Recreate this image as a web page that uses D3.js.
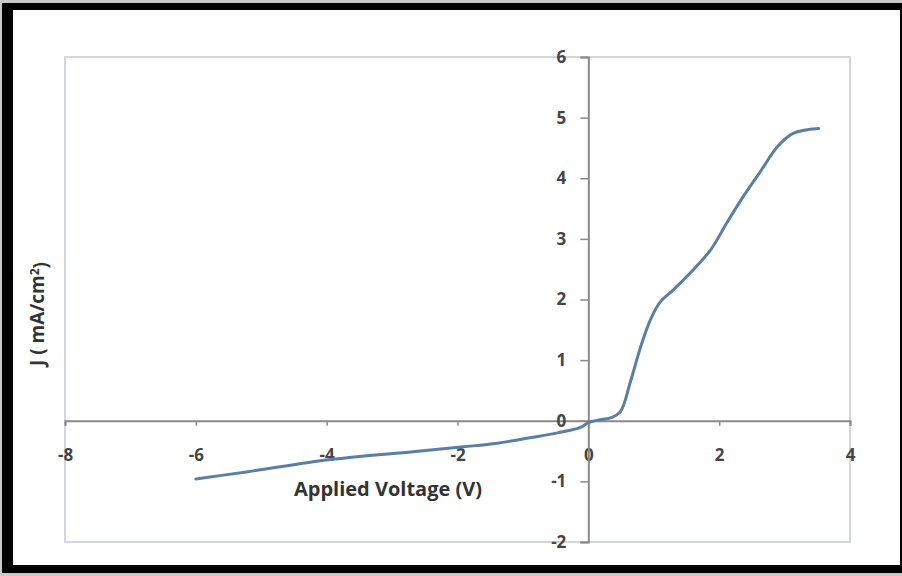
<!DOCTYPE html>
<html>
<head>
<meta charset="utf-8">
<script src="https://cdn.jsdelivr.net/npm/d3@7"></script>
<style>
  html, body { margin: 0; padding: 0; background: #fff; }
  svg { display: block; }
  .tick text { font-family: "Open Sans", sans-serif; font-weight: bold; font-size: 17px; fill: #454545; }
</style>
</head>
<body>
<div id="chart"></div>
<script>
const voltage = [-6.0, -5.2, -3.94, -2.68, -1.91, -1.39, -0.89, -0.47, -0.12, 0.0, 0.2, 0.35, 0.49, 0.64, 0.8, 0.95, 1.1, 1.3, 1.56, 1.87, 2.12, 2.37, 2.63, 2.89, 3.13, 3.52];
const current = [-0.96, -0.84, -0.64, -0.51, -0.43, -0.37, -0.28, -0.2, -0.11, -0.03, 0.02, 0.05, 0.15, 0.63, 1.22, 1.67, 1.96, 2.16, 2.44, 2.82, 3.27, 3.7, 4.11, 4.52, 4.74, 4.82];
const xTicks = [-8, -6, -4, -2, 0, 2, 4];
const yTicks = [-2, -1, 0, 1, 2, 3, 4, 5, 6];

const W = 902, H = 576;
const svg = d3.select("#chart").append("svg")
    .attr("width", W)
    .attr("height", H);

// picture frame (cropped screenshot border)
svg.append("rect").attr("width", W).attr("height", H).attr("fill", "#c9c9c9");
svg.append("rect").attr("x", 2).attr("y", 3).attr("width", W - 2).attr("height", 570).attr("fill", "#000");
svg.append("rect").attr("x", 13).attr("y", 10).attr("width", 887).attr("height", 555).attr("fill", "#fff");

const pl = 65, pr = 850, pt = 57, pb = 542;

const x = d3.scaleLinear().domain([-8, 4]).range([pl, pr]);
const y = d3.scaleLinear().domain([-2, 6]).range([pb, pt]);

// plot area border
svg.append("rect")
    .attr("x", pl).attr("y", pt)
    .attr("width", pr - pl).attr("height", pb - pt)
    .attr("fill", "none")
    .attr("stroke", "#d3d7db")
    .attr("stroke-width", 2);

const fmt = d => String(d);

const xAxis = svg.append("g")
    .attr("transform", `translate(0,${y(0)})`)
    .call(d3.axisBottom(x).tickValues(xTicks).tickSize(5).tickPadding(23).tickFormat(fmt));

const yAxis = svg.append("g")
    .attr("transform", `translate(${x(0)},0)`)
    .call(d3.axisLeft(y).tickValues(yTicks).tickSize(8).tickPadding(14).tickFormat(fmt));

[xAxis, yAxis].forEach(g => {
  g.select(".domain").attr("stroke", "#8a8a8a").attr("stroke-width", 2);
  g.selectAll(".tick line").attr("stroke", "#8a8a8a").attr("stroke-width", 1.5);
});

// curve
const line = d3.line()
    .x((d, i) => x(voltage[i]))
    .y((d, i) => y(current[i]))
    .curve(d3.curveCatmullRom.alpha(0.5));

svg.append("path")
    .datum(current)
    .attr("d", line)
    .attr("fill", "none")
    .attr("stroke", "#5b7ea6")
    .attr("stroke-width", 3)
    .attr("stroke-linecap", "round");

// axis titles
svg.append("text")
    .attr("x", 388)
    .attr("y", 496)
    .attr("text-anchor", "middle")
    .style("font-family", "Open Sans, sans-serif")
    .style("font-weight", "bold")
    .style("font-size", "20px")
    .attr("fill", "#333")
    .text("Applied Voltage (V)");

const yt = svg.append("text")
    .attr("transform", "translate(44,314) rotate(-90)")
    .attr("text-anchor", "middle")
    .style("font-family", "Open Sans, sans-serif")
    .style("font-weight", "bold")
    .style("font-size", "19px")
    .attr("fill", "#333");
yt.append("tspan").text("J ( mA/cm");
yt.append("tspan").attr("dy", "-0.45em").style("font-size", "12px").text("2");
yt.append("tspan").attr("dy", "0.45em").text(")");
</script>
</body>
</html>
